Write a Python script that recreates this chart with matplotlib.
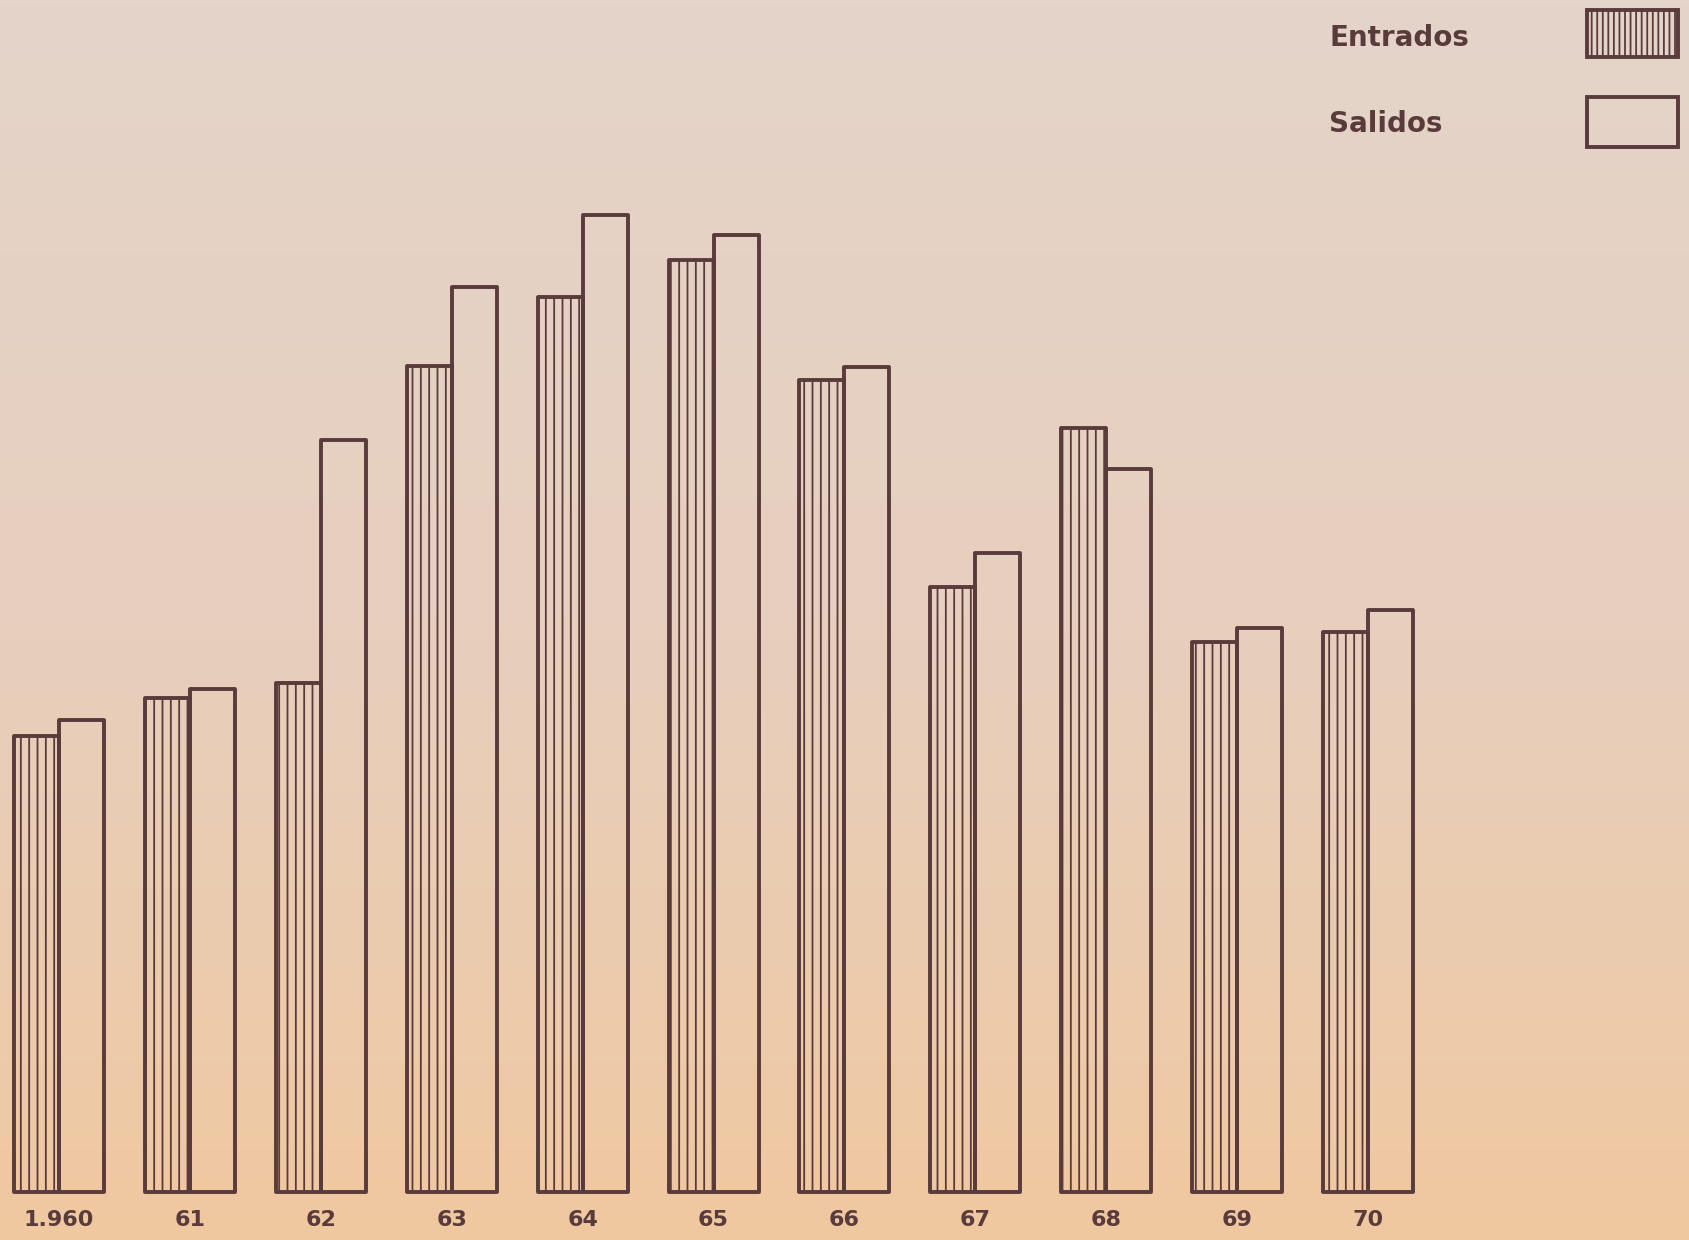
import numpy as np
import matplotlib
matplotlib.use("Agg")
import matplotlib.pyplot as plt
from matplotlib.patches import Rectangle

years = ["1.960", "61", "62", "63", "64", "65", "66", "67", "68", "69", "70"]
entrados = [423, 459, 473, 767, 831, 865, 754, 562, 709, 511, 520]
salidos = [438, 467, 698, 840, 907, 889, 766, 593, 671, 524, 540]

W, H = 1689, 1240
ink = "#5a3b3c"
plt.rcParams['hatch.linewidth'] = 1.3
plt.rcParams['hatch.color'] = ink

fig = plt.figure(figsize=(W / 100, H / 100), dpi=100)

# background paper gradient
bg = fig.add_axes([0, 0, 1, 1])
bg.set_axis_off()
top = np.array([228, 212, 201]) / 255
mid = np.array([231, 207, 190]) / 255
bot = np.array([240, 200, 160]) / 255
t = np.linspace(0, 1, 256)[:, None]
grad = np.where(t < 0.5, top + (mid - top) * (t / 0.5), mid + (bot - mid) * ((t - 0.5) / 0.5))
img = np.repeat(grad[:, None, :], 2, axis=1)
bg.imshow(img, aspect='auto', extent=[0, 1, 0, 1], origin='upper')
bg.set_xlim(0, 1)
bg.set_ylim(0, 1)

base_px = 48
ax = fig.add_axes([0, base_px / H, 1, 1 - base_px / H])
ax.patch.set_alpha(0)
scale = 1.077
group_px = 130.9
first_px = 59
ax.set_xlim(-first_px / group_px, (W - first_px) / group_px)
ax.set_ylim(0, (H - base_px) / scale)

x = np.arange(len(years))
bw = 45 / group_px
ax.bar(x - bw / 2, entrados, width=bw, facecolor='none', edgecolor=ink,
       linewidth=2.8, hatch='||', clip_on=False, joinstyle='round')
ax.bar(x + bw / 2, salidos, width=bw, facecolor='none', edgecolor=ink,
       linewidth=2.8, clip_on=False, joinstyle='round')

ax.set_xticks(x)
ax.set_xticklabels(years, fontsize=16, fontweight='bold', color=ink, family='DejaVu Sans')
ax.tick_params(axis='x', length=0, pad=13)
ax.set_yticks([])
for s in ax.spines.values():
    s.set_visible(False)

# legend
fig.text(1329 / W, 1 - 38 / H, "Entrados", fontsize=20, fontweight='bold', color=ink,
         family='DejaVu Sans', va='center', ha='left')
fig.text(1329 / W, 1 - 124 / H, "Salidos", fontsize=20, fontweight='bold', color=ink,
         family='DejaVu Sans', va='center', ha='left')
fig.patches.append(Rectangle((1587 / W, 1 - 57 / H), 91 / W, 47 / H, transform=fig.transFigure,
                             facecolor='none', edgecolor=ink, linewidth=2.8, hatch='|||'))
fig.patches.append(Rectangle((1587 / W, 1 - 147 / H), 91 / W, 50 / H, transform=fig.transFigure,
                             facecolor='none', edgecolor=ink, linewidth=2.8))

fig.savefig("out.png", dpi=100)
